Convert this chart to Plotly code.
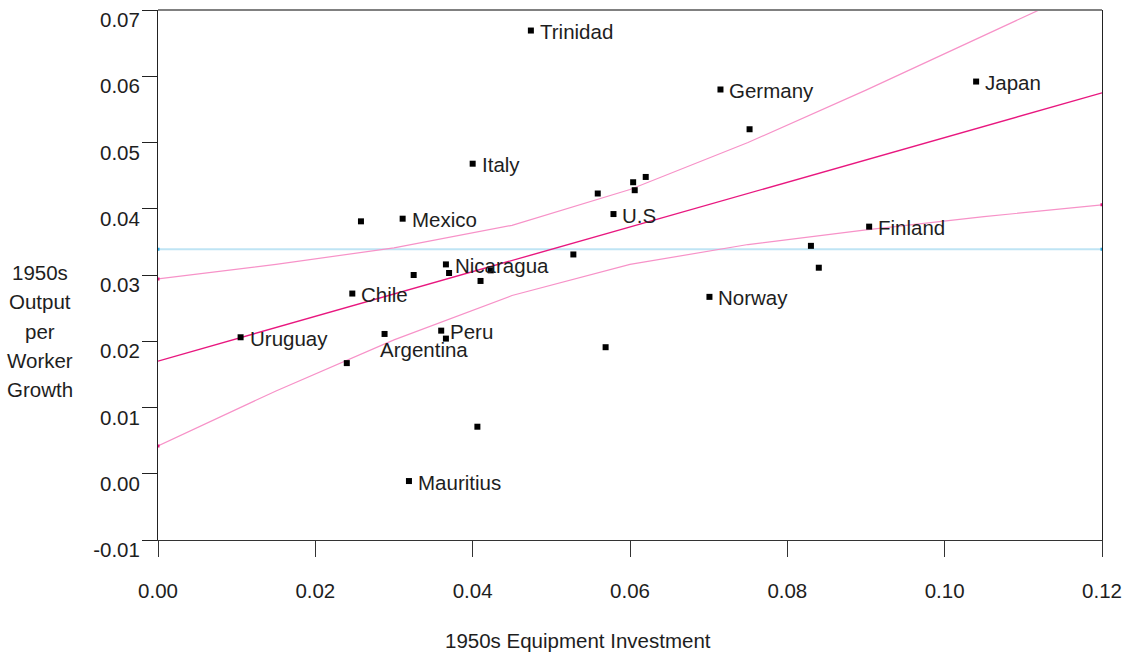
import plotly.graph_objects as go

# ---- data ----
countries = ["Trinidad", "Germany", "", "Japan", "Italy", "Mexico", "", "", "", "", "",
             "U.S", "Finland", "", "", "", "Norway", "", "Chile", "", "Nicaragua", "", "",
             "", "Argentina", "Peru", "", "", "Uruguay", "Mauritius", ""]
equip_invest = [0.0474, 0.0715, 0.0752, 0.1040, 0.0400, 0.0311, 0.0258, 0.0559, 0.0604,
                0.0620, 0.0606, 0.0579, 0.0904, 0.0830, 0.0840, 0.0528, 0.0701, 0.0569,
                0.0247, 0.0325, 0.0366, 0.0370, 0.0423, 0.0410, 0.0288, 0.0360, 0.0366,
                0.0240, 0.0105, 0.0319, 0.0406]
output_growth = [0.0669, 0.0580, 0.0520, 0.0592, 0.0468, 0.0385, 0.0381, 0.0423, 0.0440,
                 0.0448, 0.0428, 0.0392, 0.0373, 0.0344, 0.0311, 0.0331, 0.0267, 0.0191,
                 0.0272, 0.0300, 0.0316, 0.0303, 0.0307, 0.0291, 0.0211, 0.0216, 0.0204,
                 0.0167, 0.0206, -0.0011, 0.0071]

fit_x = [0.0, 0.12]
fit_y = [0.0170, 0.0575]

band_x = [0.0, 0.015, 0.03, 0.045, 0.06, 0.075, 0.09, 0.105, 0.12]
band_upper = [0.0294, 0.0316, 0.0341, 0.0375, 0.0429, 0.0500, 0.0579, 0.0661, 0.0744]
band_lower = [0.0042, 0.0125, 0.0202, 0.0269, 0.0316, 0.0346, 0.0368, 0.0388, 0.0406]

mean_x = [0.0, 0.12]
mean_y = [0.0339, 0.0339]

x_ticks = [0.00, 0.02, 0.04, 0.06, 0.08, 0.10, 0.12]
x_tick_labels = ["0.00", "0.02", "0.04", "0.06", "0.08", "0.10", "0.12"]
y_ticks = [-0.01, 0.00, 0.01, 0.02, 0.03, 0.04, 0.05, 0.06, 0.07]
y_tick_labels = ["-0.01", "0.00", "0.01", "0.02", "0.03", "0.04", "0.05", "0.06", "0.07"]

x_title = "1950s Equipment Investment"
y_title_lines = ["1950s", "Output", "per", "Worker", "Growth"]

# ---- styling ----
FONT = "Liberation Sans, Arial, Helvetica, sans-serif"
FS = 20.5
TXT = "#1e1e1e"
PINK_DARK = "#e8177f"
PINK_LIGHT = "#f792c8"
BLUE_LIGHT = "#bfe4f4"
label_shift = {"Argentina": (-7, -16)}  # (xshift, yshift) in px; default is right of marker


def ends(seq):
    return [seq[0], seq[-1]]


fig = go.Figure()
fig.add_trace(go.Scatter(x=mean_x, y=mean_y, mode="lines",
                         line=dict(color=BLUE_LIGHT, width=2), hoverinfo="skip"))
fig.add_trace(go.Scatter(x=ends(mean_x), y=ends(mean_y), mode="markers",
                         marker=dict(symbol="square", size=3, color="#29a8e0"),
                         hoverinfo="skip"))
for band in (band_upper, band_lower):
    fig.add_trace(go.Scatter(x=band_x, y=band, mode="lines",
                             line=dict(color=PINK_LIGHT, width=1.2), hoverinfo="skip"))
    fig.add_trace(go.Scatter(x=ends(band_x), y=ends(band), mode="markers",
                             marker=dict(symbol="square", size=3, color=PINK_DARK),
                             hoverinfo="skip"))
fig.add_trace(go.Scatter(x=fit_x, y=fit_y, mode="lines",
                         line=dict(color=PINK_DARK, width=1.4), hoverinfo="skip"))
fig.add_trace(go.Scatter(x=equip_invest, y=output_growth, mode="markers",
                         marker=dict(symbol="square", size=6, color="black"),
                         text=countries))

annotations = []
for name, xv, yv in zip(countries, equip_invest, output_growth):
    if not name:
        continue
    xs, ys = label_shift.get(name, (7, -1))
    annotations.append(dict(x=xv, y=yv, xref="x", yref="y", text=name, showarrow=False,
                            xanchor="left", yanchor="middle", xshift=xs, yshift=ys,
                            font=dict(family=FONT, size=FS, color=TXT)))

annotations.append(dict(x=0.445, y=-0.19, xref="paper", yref="paper",
                        text=x_title, showarrow=False,
                        xanchor="center", yanchor="middle",
                        font=dict(family=FONT, size=FS, color=TXT)))
n_lines = len(y_title_lines)
for i, line in enumerate(y_title_lines):
    annotations.append(dict(x=-0.125, y=0.394, xref="paper", yref="paper",
                            text=line, showarrow=False,
                            xanchor="center", yanchor="middle",
                            yshift=(n_lines // 2 - i) * 29.3,
                            font=dict(family=FONT, size=FS, color=TXT)))

fig.update_layout(
    width=1124, height=656,
    margin=dict(l=158, r=22, t=10, b=116),
    paper_bgcolor="white", plot_bgcolor="white",
    showlegend=False,
    font=dict(family=FONT, size=FS, color=TXT),
    annotations=annotations,
    shapes=[dict(type="line", xref="paper", yref="paper", x0=0, x1=1, y0=1, y1=1,
                 line=dict(color="#808080", width=2))],
)
fig.update_xaxes(range=[-0.0000001, 0.1200001], tickmode="array", tickvals=x_ticks,
                 ticktext=x_tick_labels, automargin=False, ticklabeloverflow="allow",
                 showgrid=False, zeroline=False, showline=True, linecolor="#333333",
                 linewidth=1, ticks="outside", ticklen=16, tickcolor="#333333",
                 ticklabelstandoff=16, tickfont=dict(family=FONT, size=FS, color=TXT))
fig.update_yaxes(range=[-0.0100001, 0.0700001], tickmode="array", tickvals=y_ticks,
                 ticktext=y_tick_labels, automargin=False, ticklabeloverflow="allow",
                 showgrid=False, zeroline=False, showline=True, mirror=True,
                 linecolor="#222222", linewidth=1, ticks="outside", ticklen=15,
                 tickcolor="#222222", ticklabelstandoff=-2, ticklabelshift=10,
                 tickfont=dict(family=FONT, size=FS, color=TXT))

fig.write_html("out.html")
